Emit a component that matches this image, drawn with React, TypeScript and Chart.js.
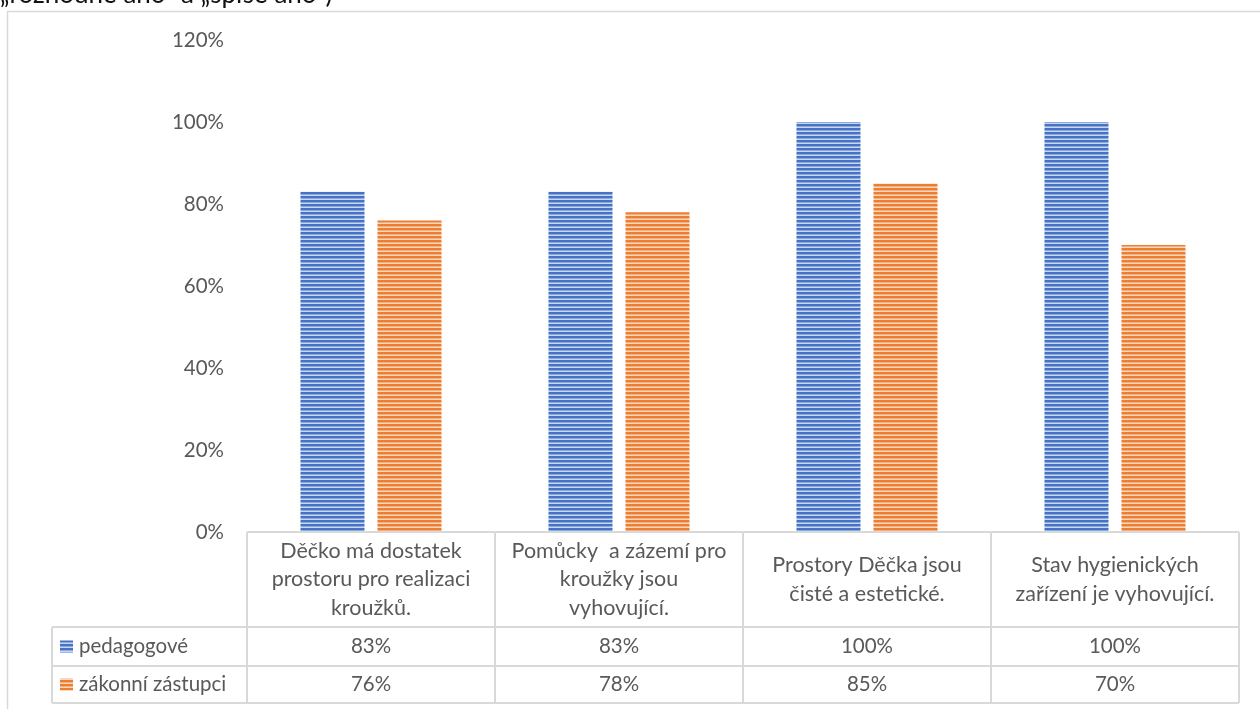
import React, { useEffect, useRef } from "react";
import { Chart, registerables } from "chart.js";

Chart.register(...registerables);

const categories: string[][] = [
  ["Děčko má dostatek", "prostoru pro realizaci", "kroužků."],
  ["Pomůcky  a zázemí pro", "kroužky jsou", "vyhovující."],
  ["Prostory Děčka jsou", "čisté a estetické."],
  ["Stav hygienických", "zařízení je vyhovující."],
];
const seriesNames = ["pedagogové", "zákonní zástupci"];
const pedagogove = [83, 83, 100, 100];
const zakonniZastupci = [76, 78, 85, 70];
const yMax = 120;
const yStep = 20;
const titleFragment = "„rozhodně ano“ a „spíše ano“)";

const FONT = "Lato, 'Open Sans', sans-serif";
const TEXT = "#595959";
const LINE = "#D9D9D9";

function makePattern(rows: string[]): CanvasPattern | string {
  const c = document.createElement("canvas");
  c.width = 4;
  c.height = rows.length;
  const g = c.getContext("2d");
  if (!g) return rows[0];
  rows.forEach((col, i) => {
    g.fillStyle = col;
    g.fillRect(0, i, 4, 1);
  });
  return g.createPattern(c, "repeat") || rows[0];
}

export default function App() {
  const ref = useRef<HTMLCanvasElement | null>(null);

  useEffect(() => {
    if (!ref.current) return;
    const bluePat = makePattern(["#4472C4", "#4472C4", "#8EA9DB", "#C9D6EF"]);
    const orangePat = makePattern(["#ED7D31", "#ED7D31", "#F4AE80", "#FAD7BF"]);
    const patterns = [bluePat, orangePat];
    const series = [pedagogove, zakonniZastupci];

    const framePlugin = {
      id: "frame",
      beforeDraw(chart: any) {
        const ctx = chart.ctx;
        ctx.save();
        ctx.fillStyle = "#FFFFFF";
        ctx.fillRect(0, 0, chart.width, chart.height);
        ctx.strokeStyle = LINE;
        ctx.lineWidth = 1.5;
        ctx.beginPath();
        ctx.moveTo(7.5, chart.height);
        ctx.lineTo(7.5, 11.5);
        ctx.lineTo(chart.width, 11.5);
        ctx.stroke();
        ctx.fillStyle = "#111111";
        ctx.font = `26px ${FONT}`;
        ctx.textBaseline = "alphabetic";
        ctx.textAlign = "left";
        ctx.fillText(titleFragment, 0, 3);
        ctx.restore();
      },
    };

    const tablePlugin = {
      id: "dataTable",
      afterDraw(chart: any) {
        const ctx = chart.ctx;
        const xs = chart.scales.x;
        const area = chart.chartArea;
        const n = categories.length;
        const colW = (area.right - area.left) / n;
        const headerTop = area.bottom;
        const headerBottom = headerTop + 95;
        const row1Bottom = headerBottom + 39;
        const row2Bottom = row1Bottom + 37;
        const legendLeft = 52;

        ctx.save();
        ctx.strokeStyle = LINE;
        ctx.lineWidth = 2;
        ctx.beginPath();
        ctx.moveTo(area.left, headerTop);
        ctx.lineTo(area.right, headerTop);
        [headerBottom, row1Bottom, row2Bottom].forEach((y) => {
          ctx.moveTo(legendLeft, y);
          ctx.lineTo(area.right, y);
        });
        for (let i = 0; i <= n; i++) {
          const x = i < n ? xs.getPixelForValue(i) - colW / 2 : xs.getPixelForValue(n - 1) + colW / 2;
          ctx.moveTo(x, headerTop);
          ctx.lineTo(x, row2Bottom);
        }
        ctx.moveTo(legendLeft, headerBottom);
        ctx.lineTo(legendLeft, row2Bottom);
        ctx.stroke();

        ctx.fillStyle = TEXT;
        ctx.font = `21.5px ${FONT}`;
        ctx.textAlign = "center";
        ctx.textBaseline = "middle";
        const lh = 28.5;
        const hc = (headerTop + headerBottom) / 2;
        categories.forEach((lines, i) => {
          const cx = xs.getPixelForValue(i);
          const y0 = hc - ((lines.length - 1) * lh) / 2;
          lines.forEach((t, k) => ctx.fillText(t, cx, y0 + k * lh));
        });
        ctx.font = `20.5px ${FONT}`;
        const rowCenters = [(headerBottom + row1Bottom) / 2, (row1Bottom + row2Bottom) / 2];
        series.forEach((vals, s) => {
          vals.forEach((v, i) => {
            ctx.fillText(`${v}%`, xs.getPixelForValue(i), rowCenters[s]);
          });
          ctx.fillStyle = patterns[s] as any;
          ctx.fillRect(60, rowCenters[s] - 6, 13, 12);
          ctx.fillStyle = TEXT;
          ctx.textAlign = "left";
          ctx.fillText(seriesNames[s], 79, rowCenters[s]);
          ctx.textAlign = "center";
        });
        ctx.restore();
      },
    };

    const chart = new Chart(ref.current, {
      type: "bar",
      data: {
        labels: categories.map((c) => c.join(" ")),
        datasets: series.map((vals, s) => ({
          label: seriesNames[s],
          data: vals,
          backgroundColor: patterns[s] as any,
          borderWidth: 0,
          categoryPercentage: 0.621,
          barPercentage: 0.831,
        })),
      },
      options: {
        responsive: false,
        animation: false,
        layout: { padding: { left: 0, top: 40, right: 21, bottom: 177 } },
        plugins: { legend: { display: false }, tooltip: { enabled: false } },
        scales: {
          x: { display: false },
          y: {
            min: 0,
            max: yMax,
            afterFit(scale: any) {
              scale.width = 247;
            },
            grid: { display: false, drawTicks: false },
            border: { display: false },
            ticks: {
              stepSize: yStep,
              padding: 23,
              color: TEXT,
              font: { family: FONT, size: 20.5 },
              callback: (v: any) => `${v}%`,
            },
          },
        },
      },
      plugins: [framePlugin, tablePlugin],
    });
    return () => chart.destroy();
  }, []);

  return (
    <canvas
      ref={ref}
      width={1260}
      height={709}
      style={{ position: "fixed", left: 0, top: 0, width: 1260, height: 709 }}
    />
  );
}
